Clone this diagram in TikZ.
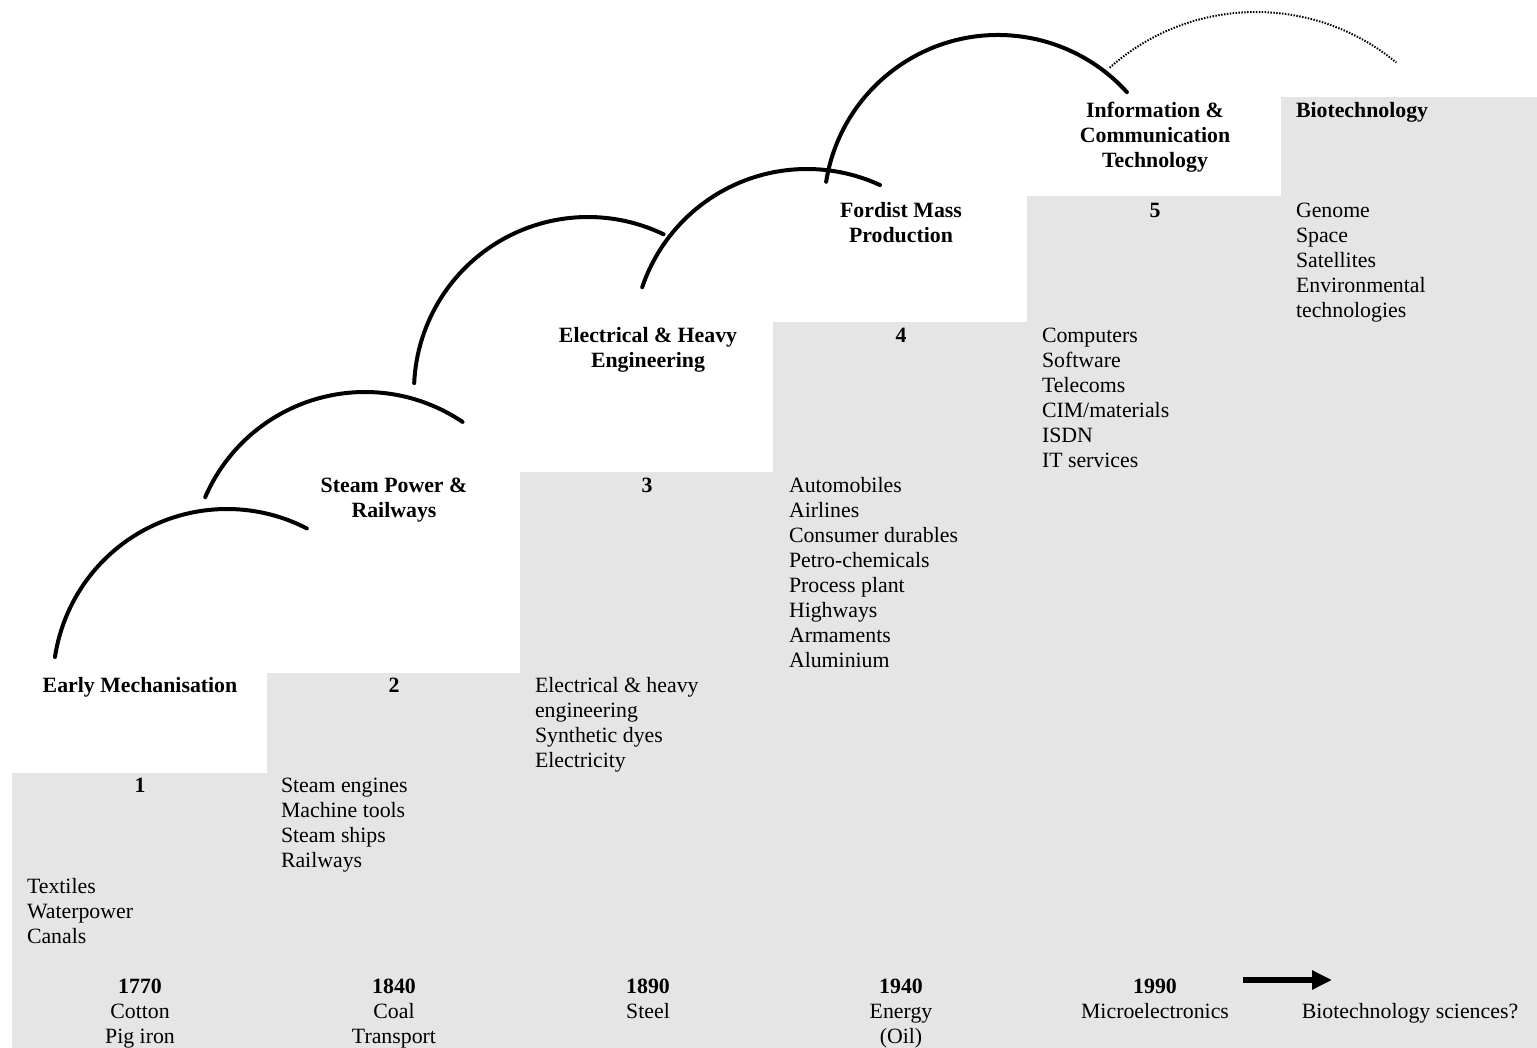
\documentclass[tikz,border=0pt]{standalone}
\usepackage{fontspec}
\setmainfont{Liberation Serif}
\usetikzlibrary{arrows.meta}
\definecolor{colgray}{RGB}{229,229,229}
\newcommand{\mytab}[2]{\begin{tabular}[t]{@{}#1@{}}#2\end{tabular}}
\begin{document}
\begin{tikzpicture}[x=0.55pt, y=-0.55pt,
  every node/.style={inner sep=0pt, outer sep=0pt, font=\fontsize{12}{13.75}\selectfont},
  titlebox/.style={anchor=base, font=\fontsize{12}{13.75}\selectfont\bfseries},
  numbox/.style={anchor=base, font=\fontsize{12}{13.75}\selectfont\bfseries},
  itembox/.style={anchor=base west},
  yearbox/.style={anchor=base},
  arcline/.style={line width=2.2pt, line cap=round},
  dotline/.style={line width=1.1pt, dash pattern=on 0.8pt off 0.8pt},
  bigarrow/.style={line width=3.3pt, -{Triangle[length=11pt,width=10pt]}}
]
\useasboundingbox (0,0) rectangle (1537,1048);
% staircase background
\fill[colgray] (12,1048) -- (12,773) -- (267,773) -- (267,673) -- (520,673) -- (520,472)
  -- (773,472) -- (773,322) -- (1027,322) -- (1027,196) -- (1281,196) -- (1281,97)
  -- (1537,97) -- (1537,1048) -- cycle;

% column 1
\node[titlebox] (t1) at (140,692.7) {Early Mechanisation};
\node[numbox] (n1) at (140,792.8) {1};
\node[itembox] (i1) at (27,893.0) {\mytab{l}{Textiles\\Waterpower\\Canals}};
\node[yearbox] (y1) at (140,993.1) {\mytab{c}{\textbf{1770}\\Cotton\\Pig iron}};

% column 2
\node[titlebox] (t2) at (394,492.5) {\mytab{c}{Steam Power \&\\Railways}};
\node[numbox] (n2) at (394,692.7) {2};
\node[itembox] (i2) at (281,792.8) {\mytab{l}{Steam engines\\Machine tools\\Steam ships\\Railways}};
\node[yearbox] (y2) at (394,993.1) {\mytab{c}{\textbf{1840}\\Coal\\Transport}};

% column 3
\node[titlebox] (t3) at (648,342.3) {\mytab{c}{Electrical \& Heavy\\Engineering}};
\node[numbox] (n3) at (647,492.5) {3};
\node[itembox] (i3) at (535,692.7) {\mytab{l}{Electrical \& heavy\\engineering\\Synthetic dyes\\Electricity}};
\node[yearbox] (y3) at (648,993.1) {\mytab{c}{\textbf{1890}\\Steel}};

% column 4
\node[titlebox] (t4) at (901,217.1) {\mytab{c}{Fordist Mass\\Production}};
\node[numbox] (n4) at (901,342.3) {4};
\node[itembox] (i4) at (789,492.5) {\mytab{l}{Automobiles\\Airlines\\Consumer durables\\Petro-chemicals\\Process plant\\Highways\\Armaments\\Aluminium}};
\node[yearbox] (y4) at (901,993.1) {\mytab{c}{\textbf{1940}\\Energy\\(Oil)}};

% column 5
\node[titlebox] (t5) at (1155,117) {\mytab{c}{Information \&\\Communication\\Technology}};
\node[numbox] (n5) at (1155,217.1) {5};
\node[itembox] (i5) at (1042,342.3) {\mytab{l}{Computers\\Software\\Telecoms\\CIM/materials\\ISDN\\IT services}};
\node[yearbox] (y5) at (1155,993.1) {\mytab{c}{\textbf{1990}\\Microelectronics}};

% column 6
\node[titlebox, anchor=base west] (t6) at (1296,117) {Biotechnology};
\node[itembox] (i6) at (1296,217.1) {\mytab{l}{Genome\\Space\\Satellites\\Environmental\\technologies}};
\node[yearbox] (y6) at (1410,1018.1) {Biotechnology sciences?};

% arrow
\coordinate (arrA) at (1243,980);
\coordinate (arrB) at (1332,980);
\draw[bigarrow] (arrA) -- (arrB);

% arcs
\coordinate (c1) at (227,683);
\coordinate (c2) at (365,566);
\coordinate (c3) at (588,391);
\coordinate (c4) at (807,343);
\coordinate (c5) at (998,209);
\coordinate (c6) at (1256,232);
\draw[arcline] (c1) ++(-171.4:174) arc[start angle=-171.4, end angle=-62.7, radius=174];
\draw[arcline] (c2) ++(-156.7:174) arc[start angle=-156.7, end angle=-55.9, radius=174];
\draw[arcline] (c3) ++(-177.4:174) arc[start angle=-177.4, end angle=-64.3, radius=174];
\draw[arcline] (c4) ++(-161.3:174) arc[start angle=-161.3, end angle=-65.2, radius=174];
\draw[arcline] (c5) ++(-171:174) arc[start angle=-171, end angle=-42.2, radius=174];
\draw[dotline] (c6) ++(-131.7:220) arc[start angle=-131.7, end angle=-50.4, radius=220];
\end{tikzpicture}
\end{document}
